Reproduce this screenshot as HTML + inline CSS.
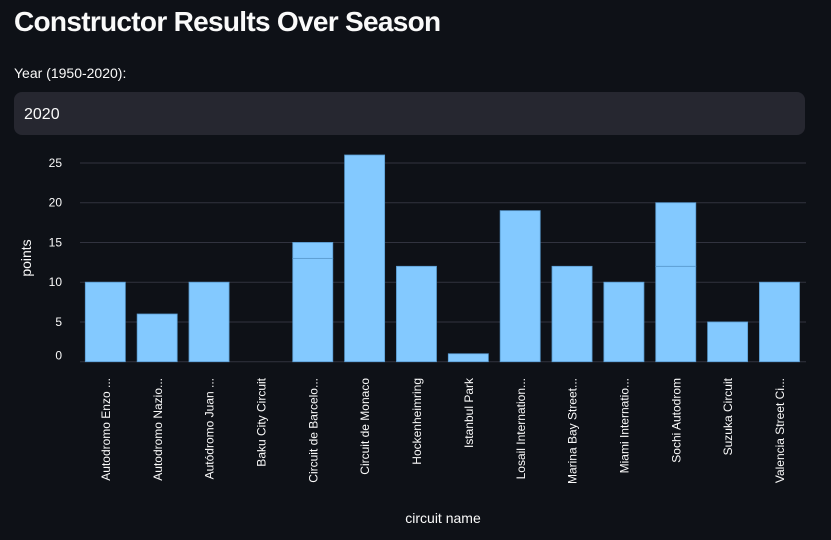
<!DOCTYPE html>
<html><head><meta charset="utf-8"><style>
body{margin:0;background:#0e1117;width:831px;height:540px;overflow:hidden;font-family:"Liberation Sans",sans-serif;color:#fafafa}
h1{position:absolute;left:14px;top:6px;margin:0;font-size:28px;font-weight:bold;letter-spacing:-0.7px}
.lbl{position:absolute;left:14px;top:65px;font-size:14px}
.inp{position:absolute;left:14px;top:92px;width:791px;height:43px;background:#262730;border-radius:8px;box-sizing:border-box;padding:14px 10px;font-size:16px}
svg{position:absolute;left:0;top:0}
</style></head><body>
<h1>Constructor Results Over Season</h1>
<div class="lbl">Year (1950-2020):</div>
<div class="inp">2020</div>
<svg id="chart" width="831" height="540"></svg>
<script>
const categories=["Autodromo Enzo ...","Autodromo Nazio...","Autódromo Juan ...","Baku City Circuit","Circuit de Barcelo...","Circuit de Monaco","Hockenheimring","Istanbul Park","Losail Internation...","Marina Bay Street...","Miami Internatio...","Sochi Autodrom","Suzuka Circuit","Valencia Street Ci..."];
const seriesA=[10,6,10,0,13,26,12,1,19,12,10,12,5,10];
const seriesB=[0,0,0,0,2,0,0,0,0,0,0,8,0,0];
const yTicks=[0,5,10,15,20,25];
const NS="http://www.w3.org/2000/svg";
const svg=document.getElementById('chart');
const x0=80,x1=806,y0=361.7,pxPer=7.95;
const step=(x1-x0)/categories.length;
const y=v=>y0-v*pxPer;
const xb=i=>x0+i*step+5.3;
function mk(t,a){const e=document.createElementNS(NS,t);for(const k in a)e.setAttribute(k,a[k]);svg.appendChild(e);return e;}
yTicks.forEach(t=>{
 const l=mk('line',{x1:x0,x2:x1,y1:y(t),y2:y(t),stroke:'#31333f','stroke-width':1});
 
 
 const tx=mk('text',{x:62,y:y(t)+(t==0?-2:4),'text-anchor':'end','font-size':12,fill:'#fafafa'});
 tx.textContent=t;
 
 
});
categories.forEach((c,i)=>{
 let base=0;
 [seriesA[i],seriesB[i]].forEach(v=>{
  if(v<=0)return;
  const r=mk('rect',{x:xb(i),y:y(base+v),width:step-11.8,height:v*pxPer,fill:'#83c9ff',stroke:'#5a9bcf','stroke-width':0.8});
  
  
  base+=v;
 });
 const cx=x0+i*step+step/2;
 const t=mk('text',{x:0,y:0,'text-anchor':'end','font-size':12,fill:'#fafafa',transform:`translate(${cx+4},378) rotate(-90)`});
 t.textContent=c;
 
 
});
const yt=mk('text',{x:0,y:0,'text-anchor':'middle','font-size':14,fill:'#fafafa',transform:'translate(31,258) rotate(-90)'});
yt.textContent='points';


const xt=mk('text',{x:443,y:523,'text-anchor':'middle','font-size':14,fill:'#fafafa'});
xt.textContent='circuit name';


</script>
</body></html>
